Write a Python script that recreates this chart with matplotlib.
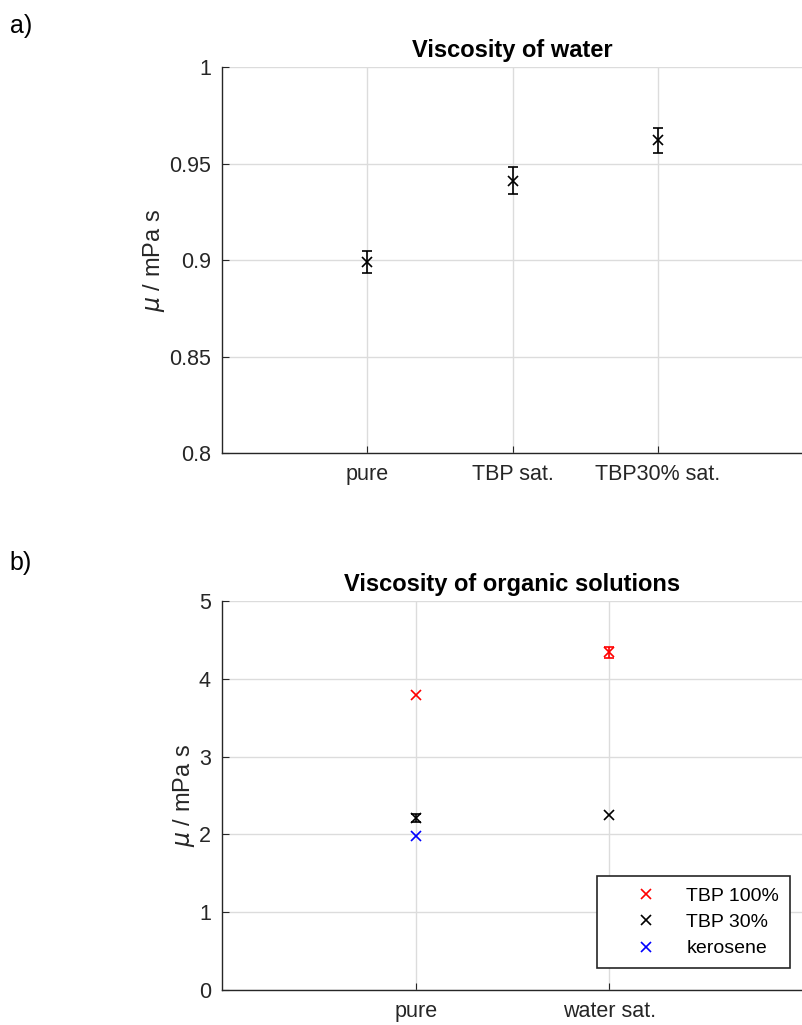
import numpy as np
import matplotlib.pyplot as plt

plt.rcParams['font.family'] = ['Liberation Sans', 'DejaVu Sans']

# panel a: viscosity of water
water_labels = ['pure', 'TBP sat.', 'TBP30% sat.']
water_mu = [0.899, 0.941, 0.962]
water_err = [0.0055, 0.007, 0.0065]

# panel b: viscosity of organic solutions
org_labels = ['pure', 'water sat.']
tbp100_mu = [3.79, 4.34]
tbp100_err = [0.0, 0.07]
tbp30_mu = [2.21, 2.25]
tbp30_err = [0.05, 0.0]
kero_mu = [1.98]
kero_err = [0.0]

axcol = '#262626'
gridcol = '#dcdcdc'


def style(ax):
    ax.spines['top'].set_visible(False)
    ax.spines['right'].set_visible(False)
    for s in ['left', 'bottom']:
        ax.spines[s].set_color(axcol)
        ax.spines[s].set_linewidth(1.0)
    ax.tick_params(direction='in', length=5, colors=axcol, labelsize=15.5, pad=8)
    ax.grid(True, color=gridcol, linewidth=1.0)
    ax.set_axisbelow(True)


def points(ax, x, y, err, color, label=None):
    x = np.asarray(x, float)
    y = np.asarray(y, float)
    err = np.asarray(err, float)
    ax.plot(x, y, 'x', color=color, ms=7, mew=1.2, label=label)
    m = err > 0
    if m.any():
        ax.errorbar(x[m], y[m], yerr=err[m], fmt='none', ecolor=color,
                    elinewidth=1.2, capsize=3.5, capthick=1.2)


fig = plt.figure(figsize=(8.03, 10.25), dpi=100)

ax1 = fig.add_axes([0.2765, 0.558, 0.7235, 0.3766])
x1 = np.arange(1, len(water_labels) + 1)
points(ax1, x1, water_mu, water_err, 'k')
ax1.set_xlim(0, 4)
ax1.set_ylim(0.8, 1.0)
ax1.set_xticks(x1)
ax1.set_xticklabels(water_labels)
ax1.set_yticks([0.8, 0.85, 0.9, 0.95, 1.0])
ax1.set_yticklabels(['0.8', '0.85', '0.9', '0.95', '1'])
style(ax1)
ax1.set_ylabel(r'$\mu$ / mPa s', fontsize=17, color=axcol, labelpad=1.5)
ax1.set_title('Viscosity of water', fontsize=17, fontweight='bold', pad=7)

ax2 = fig.add_axes([0.2765, 0.0341, 0.7235, 0.3796])
x2 = np.arange(1, len(org_labels) + 1)
points(ax2, x2, tbp100_mu, tbp100_err, 'red', 'TBP 100%')
points(ax2, x2, tbp30_mu, tbp30_err, 'k', 'TBP 30%')
points(ax2, x2[:1], kero_mu, kero_err, 'blue', 'kerosene')
ax2.set_xlim(0, 3)
ax2.set_ylim(0, 5)
ax2.set_xticks(x2)
ax2.set_xticklabels(org_labels)
ax2.set_yticks(range(6))
style(ax2)
ax2.set_ylabel(r'$\mu$ / mPa s', fontsize=17, color=axcol, labelpad=1.5)
ax2.set_title('Viscosity of organic solutions', fontsize=17, fontweight='bold', pad=7)
leg = ax2.legend(loc='lower right', bbox_to_anchor=(0.9776, 0.0566), borderaxespad=0,
                 fontsize=14, frameon=True, fancybox=False, edgecolor=axcol,
                 handlelength=3.95, borderpad=0.55, labelspacing=0.45, handletextpad=0.1)
leg.get_frame().set_linewidth(1.2)
leg.get_frame().set_alpha(1)

fig.text(0.012, 0.975, 'a)', fontsize=18, va='center')
fig.text(0.012, 0.451, 'b)', fontsize=18, va='center')

fig.savefig('out.png', dpi=100)
